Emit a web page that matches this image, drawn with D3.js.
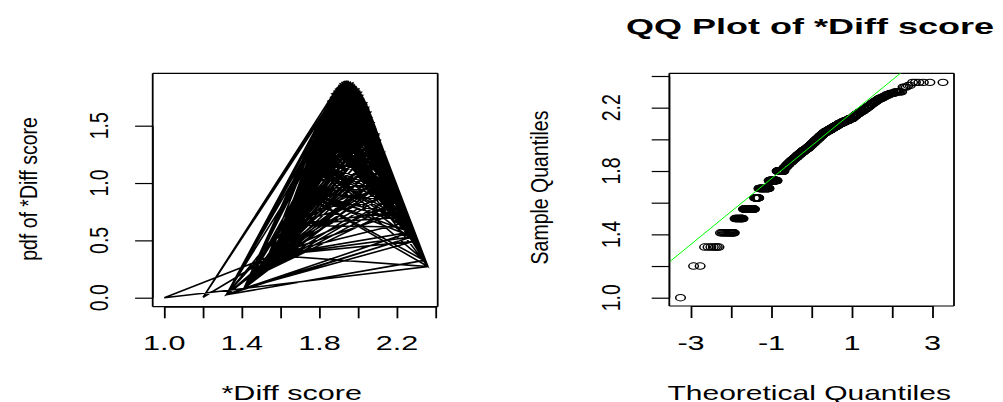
<!DOCTYPE html>
<html>
<head>
<meta charset="utf-8">
<script src="https://cdn.jsdelivr.net/npm/d3@7"></script>
<style>
body { margin: 0; background: #fff; }
text { font-family: "Liberation Sans", Arial, sans-serif; fill: #000; }
</style>
</head>
<body>
<script>
// *Diff score, in recorded order (n = 900)
var diffScore = [
  1.69,1.93,2.16,1.99,1.80,2.05,1.88,2.11,1.83,1.74,2.07,2.01,1.95,1.87,2.10,2.18,2.04,2.12,1.98,1.92,
  2.29,1.56,1.94,1.32,2.09,2.15,1.41,2.02,1.89,2.06,2.23,1.80,2.13,2.08,2.00,1.69,1.96,2.30,1.84,1.74,
  1.82,2.11,1.74,1.86,1.91,2.21,1.69,1.97,1.80,2.05,1.63,2.03,2.17,2.10,1.50,1.93,2.07,1.90,1.56,2.25,
  2.12,1.91,1.69,2.28,2.00,1.85,2.06,2.20,1.74,1.80,2.04,1.50,1.56,1.98,1.95,1.87,2.14,1.63,2.24,2.09,
  2.02,2.13,1.41,2.36,1.93,2.36,1.89,2.19,1.56,2.08,2.10,2.16,1.97,2.05,1.94,1.92,2.07,1.86,2.11,2.01,
  1.74,1.69,1.96,1.80,2.06,1.99,2.22,1.88,2.12,1.83,2.17,2.09,1.80,1.74,1.90,1.91,1.69,1.84,2.04,2.03,
  2.26,1.98,1.82,1.94,2.13,1.80,1.69,1.87,2.08,1.74,1.85,2.00,1.69,2.10,2.05,2.15,1.74,1.92,1.80,1.89,
  1.95,2.11,2.06,2.02,2.18,1.86,1.97,1.93,2.07,2.12,2.27,1.74,2.01,1.83,1.96,1.69,1.80,2.09,2.21,2.04,
  1.56,2.16,1.32,1.99,2.30,1.91,2.06,1.41,2.10,1.88,1.90,2.23,1.63,1.94,2.13,2.05,1.50,2.03,1.56,2.17,
  1.41,1.92,1.20,1.56,2.00,2.19,2.07,1.89,2.11,2.29,1.80,1.95,2.04,1.74,2.25,1.97,1.69,2.12,2.36,1.84,
  2.14,1.56,1.93,2.08,1.63,2.20,1.87,2.02,1.50,2.09,2.10,1.80,1.99,1.96,1.69,1.82,2.06,1.74,2.22,1.86,
  2.01,1.91,2.13,2.05,2.16,1.94,1.88,1.98,2.11,2.07,1.74,1.90,2.18,1.85,2.04,1.92,1.80,1.69,2.03,2.12,
  2.06,2.09,1.93,2.00,1.89,1.97,2.15,2.13,1.95,2.08,2.24,2.10,1.91,1.63,2.17,1.50,1.86,2.05,1.56,2.02,
  1.80,1.69,1.96,1.99,1.83,2.11,1.74,2.19,2.04,1.88,2.07,1.32,2.28,1.92,2.01,2.12,1.56,1.90,1.41,2.14,
  1.87,1.69,2.06,1.80,2.10,1.74,1.98,1.94,2.26,1.84,1.82,1.74,1.95,2.30,2.08,2.21,1.80,2.03,2.09,1.69,
  2.11,2.00,1.69,2.05,1.85,2.16,1.93,1.80,1.89,1.74,1.69,2.07,1.83,2.23,1.80,2.27,1.91,2.13,1.97,1.74,
  1.96,2.20,1.84,2.02,1.74,1.69,2.10,2.04,1.80,1.87,2.18,2.33,1.99,1.88,2.06,2.12,2.29,1.41,1.56,1.94,
  1.50,2.01,2.09,1.56,1.86,1.63,1.92,2.15,2.25,2.08,1.95,1.98,2.17,2.11,2.05,2.07,1.90,1.93,2.03,2.13,
  1.56,1.91,2.22,2.10,1.50,2.06,2.00,1.63,2.14,1.89,2.12,2.04,1.94,1.97,2.09,2.19,2.02,1.87,2.08,1.96,
  1.88,2.11,1.41,1.99,1.56,2.05,2.16,1.92,1.32,2.34,1.74,1.82,1.95,2.13,1.86,2.01,1.80,2.18,1.69,2.07,
  1.98,2.24,2.10,2.28,1.80,1.93,1.85,2.06,1.74,1.69,2.04,1.69,1.90,2.26,1.83,1.91,2.12,1.74,2.03,1.80,
  1.80,1.94,1.88,2.09,1.69,2.00,1.84,2.07,2.21,1.74,2.29,1.92,2.15,2.11,2.36,1.56,1.97,2.05,1.86,1.41,
  2.08,1.80,1.69,1.95,2.02,2.23,1.82,2.30,2.13,1.74,2.17,1.93,1.99,2.04,2.10,2.01,1.89,1.96,2.12,2.06,
  1.69,1.87,1.80,2.07,1.98,1.85,2.14,1.74,1.91,2.09,1.63,2.05,1.94,1.90,1.56,2.11,2.18,2.03,1.50,2.20,
  1.83,2.10,1.95,1.80,2.08,1.74,2.00,2.27,1.69,2.25,1.92,2.16,1.97,2.13,1.84,2.04,1.69,1.88,1.74,1.80,
  2.12,2.19,1.50,1.56,1.93,2.06,2.22,1.86,2.02,1.63,1.89,2.07,1.99,2.09,1.96,2.15,1.91,2.01,2.05,2.11,
  1.98,1.74,1.69,1.94,1.82,2.08,1.87,2.10,1.80,2.24,2.13,1.56,1.00,1.41,2.06,2.03,2.17,2.33,1.90,1.93,
  2.00,1.88,1.56,2.14,1.32,1.41,1.95,2.28,2.07,2.09,1.92,1.86,1.63,2.18,1.97,2.21,1.56,2.04,1.50,2.12,
  1.85,1.80,2.26,2.06,2.11,1.94,1.89,2.02,1.69,1.74,2.08,1.69,2.13,2.16,1.74,1.91,1.99,1.87,1.80,1.83,
  2.30,2.01,1.96,2.23,1.74,2.05,1.80,1.69,2.10,1.84,2.12,1.98,1.93,2.07,2.19,1.90,2.09,2.04,1.95,2.03,
  2.00,2.15,1.92,2.11,2.06,1.88,1.94,2.08,2.13,1.97,1.74,2.10,2.02,2.25,1.80,1.86,2.05,1.96,1.82,1.69,
  1.91,1.69,1.80,1.99,2.07,2.29,2.12,1.74,1.85,2.20,1.89,1.20,1.93,2.04,2.17,1.41,2.01,1.56,2.27,2.09,
  1.80,1.98,2.18,1.87,1.69,1.95,1.83,1.74,2.11,2.06,2.13,2.03,2.08,1.50,2.22,2.14,1.90,1.94,1.63,1.56,
  1.88,1.92,1.74,2.16,2.05,2.00,1.69,2.10,1.80,1.84,1.69,2.24,2.07,1.97,1.74,1.82,1.80,1.95,2.12,1.86,
  2.19,1.93,1.56,2.02,2.09,1.63,2.04,1.50,2.21,1.89,2.36,1.80,2.08,2.13,1.85,1.91,1.99,2.26,1.74,1.69,
  2.06,1.96,2.11,2.01,1.98,1.94,2.15,1.87,2.10,2.07,1.41,2.28,2.05,2.03,1.92,1.32,1.90,2.12,2.17,1.56,
  2.23,1.83,1.74,2.00,1.93,2.09,2.30,2.06,1.80,1.69,2.36,2.18,2.13,1.95,1.97,1.88,2.27,1.41,1.56,2.04,
  2.11,2.02,1.86,1.91,2.08,2.14,2.05,1.99,2.12,1.94,1.80,1.89,1.96,2.20,1.84,1.69,2.07,2.01,2.10,1.74,
  2.06,1.50,2.16,1.87,1.56,1.98,1.92,1.63,2.13,2.25,2.03,1.74,1.93,2.19,1.69,1.90,2.11,1.80,2.04,1.85,
  2.12,1.74,1.88,2.05,2.00,1.80,2.22,1.82,1.95,1.69,1.91,2.15,2.26,1.63,1.50,1.86,1.97,1.56,2.07,2.09,
  2.08,1.84,1.89,1.80,2.10,2.17,2.02,1.69,1.94,1.74,1.96,1.99,2.13,2.04,1.87,2.18,2.06,2.01,2.11,1.92,
  1.98,2.14,2.29,1.56,1.90,2.33,2.12,2.05,1.93,1.41,1.69,2.34,2.21,1.83,1.95,1.74,2.10,2.08,2.03,1.80,
  2.16,2.13,2.06,1.91,2.00,1.88,1.94,1.97,2.07,2.09,2.04,1.96,1.32,1.41,1.86,2.11,2.19,1.56,2.28,2.02,
  1.74,1.85,1.69,2.24,2.30,1.80,1.93,1.99,2.08,2.12,1.89,2.10,1.82,1.95,2.15,1.74,1.69,2.01,1.80,2.05,
  1.92,1.84,1.87,1.69,1.98,1.74,2.13,1.80,2.20,2.07,2.26,1.63,2.11,2.06,2.03,1.50,1.56,2.18,1.90,1.94
];

// axis ticks and tick labels
var pdfXTicks = [1.0, 1.2, 1.4, 1.6, 1.8, 2.0, 2.2, 2.4];
var pdfXLabels = ["1.0", "", "1.4", "", "1.8", "", "2.2", ""];
var pdfYTicks = [0, 0.5, 1.0, 1.5];
var pdfYLabels = ["0.0", "0.5", "1.0", "1.5"];
var qqXTicks = [-3, -2, -1, 0, 1, 2, 3];
var qqXLabels = ["-3", "", "-1", "", "1", "", "3"];
var qqYTicks = [1.0, 1.2, 1.4, 1.6, 1.8, 2.0, 2.2, 2.4];
var qqYLabels = ["1.0", "", "1.4", "", "1.8", "", "2.2", ""];

var w = 1003;
var h = 402;

var svg = d3.select("body")
            .append("svg")
            .attr("width", w)
            .attr("height", h);

var n = diffScore.length;
var mean = d3.mean(diffScore);
var sd = d3.deviation(diffScore);

//normal density with the sample mean and sd
function dnorm(v) {
    var z = (v - mean) / sd;
    return Math.exp(-0.5 * z * z) / (sd * Math.sqrt(2 * Math.PI));
}

//inverse normal cdf (Acklam)
function qnorm(p) {
    var a = [-3.969683028665376e+01, 2.209460984245205e+02, -2.759285104469687e+02,
             1.383577518672690e+02, -3.066479806614716e+01, 2.506628277459239e+00];
    var b = [-5.447609879822406e+01, 1.615858368580409e+02, -1.556989798598866e+02,
             6.680131188771972e+01, -1.328068155288572e+01];
    var c = [-7.784894002430293e-03, -3.223964580411365e-01, -2.400758277161838e+00,
             -2.549732539343734e+00, 4.374664141464968e+00, 2.938163982698783e+00];
    var d = [7.784695709041462e-03, 3.224671290700398e-01, 2.445134137142996e+00,
             3.754408661907416e+00];
    var plow = 0.02425, q, r;
    if (p < plow) {
        q = Math.sqrt(-2 * Math.log(p));
        return (((((c[0]*q+c[1])*q+c[2])*q+c[3])*q+c[4])*q+c[5]) /
               ((((d[0]*q+d[1])*q+d[2])*q+d[3])*q+1);
    }
    if (p > 1 - plow) {
        q = Math.sqrt(-2 * Math.log(1 - p));
        return -(((((c[0]*q+c[1])*q+c[2])*q+c[3])*q+c[4])*q+c[5]) /
                ((((d[0]*q+d[1])*q+d[2])*q+d[3])*q+1);
    }
    q = p - 0.5;
    r = q * q;
    return (((((a[0]*r+a[1])*r+a[2])*r+a[3])*r+a[4])*r+a[5])*q /
           (((((b[0]*r+b[1])*r+b[2])*r+b[3])*r+b[4])*r+1);
}

//helpers for the stretched R-style text
function hText(x, y, s, size, sx, bold) {
    svg.append("text")
       .attr("transform", "translate(" + x + "," + y + ") scale(" + sx + ",1)")
       .attr("text-anchor", "middle")
       .attr("font-size", size)
       .attr("font-weight", bold ? "bold" : "normal")
       .text(s);
}
function vText(x, y, s, size, k) {
    svg.append("text")
       .attr("transform", "translate(" + x + "," + y + ") rotate(-90) scale(1," + k + ")")
       .attr("text-anchor", "middle")
       .attr("font-size", size)
       .text(s);
}
function drawBox(x0, y0, x1, y1) {
    var g = svg.append("g").attr("stroke", "#000");
    g.append("line").attr("x1", x0).attr("x2", x1).attr("y1", y0).attr("y2", y0).attr("stroke-width", 1.2);
    g.append("line").attr("x1", x0).attr("x2", x1).attr("y1", y1).attr("y2", y1).attr("stroke-width", 1.2);
    g.append("line").attr("x1", x0).attr("x2", x0).attr("y1", y0).attr("y2", y1).attr("stroke-width", 1.8);
    g.append("line").attr("x1", x1).attr("x2", x1).attr("y1", y0).attr("y2", y1).attr("stroke-width", 1.8);
}

// ---------- left panel: pdf of the scores ----------
var xL = d3.scaleLinear().domain([1.0, 2.4]).range([164.3, 435.7]);
var yL = d3.scaleLinear().domain([0, 1.5]).range([297.7, 125.7]);

drawBox(152.7, 73.3, 437.7, 306.7);

svg.append("path")
   .datum(diffScore)
   .attr("d", d3.line().x(function(d) { return xL(d); }).y(function(d) { return yL(dnorm(d)); }))
   .attr("fill", "none")
   .attr("stroke", "#000")
   .attr("stroke-width", 1.6);

svg.append("g")
   .attr("transform", "translate(0,306.7)")
   .call(d3.axisBottom(xL).tickValues(pdfXTicks).tickSize(11.6).tickSizeOuter(0).tickFormat(""))
   .call(function(g) { g.selectAll("line").attr("stroke-width", 1.8); });

svg.append("g")
   .attr("transform", "translate(152.7,0)")
   .call(d3.axisLeft(yL).tickValues(pdfYTicks).tickSize(17.6).tickSizeOuter(0).tickFormat(""))
   .call(function(g) { g.selectAll("line").attr("stroke-width", 1.2); });

pdfXTicks.forEach(function(t, i) {
    if (pdfXLabels[i]) hText(xL(t), 350, pdfXLabels[i], 20, 1.53);
});
pdfYTicks.forEach(function(t, i) {
    vText(108, yL(t), pdfYLabels[i], 19.5, 1.35);
});

hText(291.7, 399.5, "*Diff score", 20, 1.53);
vText(36.5, 189, "pdf of *Diff score", 19.5, 1.27);

// ---------- right panel: normal QQ plot ----------
var xQ = d3.scaleLinear().domain([-3, 3]).range([691, 932.5]);
var yQ = d3.scaleLinear().domain([1.0, 2.4]).range([297.7, 76]);

drawBox(669.3, 73.3, 954, 306);

var sorted = diffScore.slice().sort(d3.ascending);
var theo = sorted.map(function(v, i) { return qnorm((i + 0.5) / n); });

svg.append("g")
   .selectAll("circle")
   .data(sorted)
   .enter()
   .append("circle")
   .attr("transform", function(d, i) {
       return "translate(" + xQ(theo[i]) + "," + yQ(d) + ") scale(1.5,1)";
   })
   .attr("r", 3.2)
   .attr("fill", "none")
   .attr("stroke", "#000")
   .attr("stroke-width", 1);

//qqline through the quartiles
var q1 = d3.quantileSorted(sorted, 0.25);
var q3 = d3.quantileSorted(sorted, 0.75);
var slope = (q3 - q1) / (qnorm(0.75) - qnorm(0.25));
var intercept = q1 - slope * qnorm(0.25);

svg.append("clipPath")
   .attr("id", "qqclip")
   .append("rect")
   .attr("x", 669.3).attr("y", 73.3)
   .attr("width", 954 - 669.3).attr("height", 306 - 73.3);

svg.append("line")
   .attr("clip-path", "url(#qqclip)")
   .attr("x1", xQ(-4)).attr("y1", yQ(intercept - 4 * slope))
   .attr("x2", xQ(4)).attr("y2", yQ(intercept + 4 * slope))
   .attr("stroke", "#00ff00")
   .attr("stroke-width", 1);

svg.append("g")
   .attr("transform", "translate(0,306)")
   .call(d3.axisBottom(xQ).tickValues(qqXTicks).tickSize(12).tickSizeOuter(0).tickFormat(""))
   .call(function(g) { g.selectAll("line").attr("stroke-width", 1.8); });

svg.append("g")
   .attr("transform", "translate(669.3,0)")
   .call(d3.axisLeft(yQ).tickValues(qqYTicks).tickSize(17.6).tickSizeOuter(0).tickFormat(""))
   .call(function(g) { g.selectAll("line").attr("stroke-width", 1.2); });

qqXTicks.forEach(function(t, i) {
    if (qqXLabels[i]) hText(xQ(t), 350, qqXLabels[i], 20, 1.53);
});
qqYTicks.forEach(function(t, i) {
    if (qqYLabels[i]) vText(620, yQ(t), qqYLabels[i], 19.5, 1.35);
});

hText(809.2, 399.5, "Theoretical Quantiles", 20, 1.5);
vText(548, 187.5, "Sample Quantiles", 19.5, 1.27);
hText(810, 34.3, "QQ Plot of *Diff score", 22.5, 1.6, true);
</script>
</body>
</html>
